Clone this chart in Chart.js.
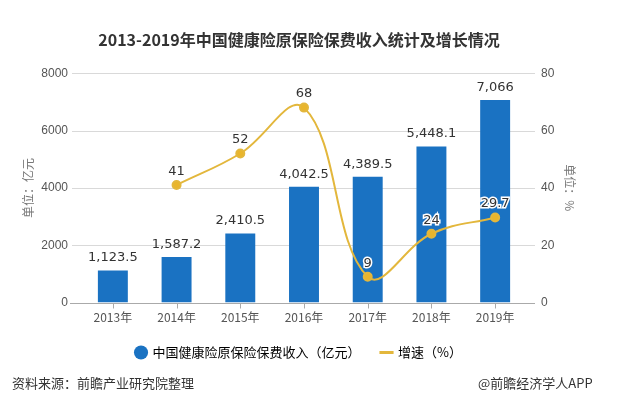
<!DOCTYPE html>
<html><head><meta charset="utf-8">
<script src="https://cdn.jsdelivr.net/npm/chart.js@4/dist/chart.umd.min.js"></script>
<style>
html,body{margin:0;padding:0;background:#fff;}
#wrap{position:relative;width:626px;height:402px;}
canvas{position:absolute;left:0;top:0;}
.note{position:absolute;top:373px;font:13px "Noto Sans CJK SC",sans-serif;color:#333;}
</style></head><body>
<div id="wrap"><canvas id="c" width="626" height="402"></canvas>
<div class="note" style="left:12px">资料来源：前瞻产业研究院整理</div>
<div class="note" style="left:478px">@前瞻经济学人APP</div>
</div>
<script>
const categories = ["2013年","2014年","2015年","2016年","2017年","2018年","2019年"];
const premium = [1123.5, 1587.2, 2410.5, 4042.5, 4389.5, 5448.1, 7066];
const growth = [null, 41, 52, 68, 9, 24, 29.7];
const premiumLabels = ["1,123.5","1,587.2","2,410.5","4,042.5","4,389.5","5,448.1","7,066"];
const growthLabels = [null,"41","52","68","9","24","29.7"];

const gridPlugin = {
  id:'grid',
  beforeDatasetsDraw(chart){
    const y = chart.scales.y, ctx = chart.ctx, a = chart.chartArea;
    ctx.save();
    ctx.strokeStyle = '#d9d9d9'; ctx.lineWidth = 1;
    y.ticks.forEach(t=>{
      if (t.value === 0) return;
      const py = Math.round(y.getPixelForValue(t.value)) + 0.5;
      ctx.beginPath(); ctx.moveTo(a.left-9, py); ctx.lineTo(a.right+8, py); ctx.stroke();
    });
    ctx.strokeStyle = '#aaaaaa';
    const py0 = Math.round(y.getPixelForValue(0)) + 0.5;
    ctx.beginPath(); ctx.moveTo(a.left-11, py0); ctx.lineTo(a.right+8, py0); ctx.stroke();
    const x = chart.scales.x;
    categories.forEach((c,i)=>{
      const px = Math.round(x.getPixelForValue(i)) + 0.5;
      ctx.beginPath(); ctx.moveTo(px, py0); ctx.lineTo(px, py0+5); ctx.stroke();
    });
    ctx.restore();
  }
};
const labelPlugin = {
  id:'labels',
  afterDatasetsDraw(chart){
    const ctx = chart.ctx;
    ctx.save();
    ctx.textAlign = 'center'; ctx.textBaseline = 'bottom';
    const bm = chart.getDatasetMeta(1);
    ctx.font = '13px "DejaVu Sans", sans-serif';
    ctx.fillStyle = '#333';
    bm.data.forEach((el,i)=>{ ctx.fillText(premiumLabels[i], el.x, el.y - 6); });
    const lm = chart.getDatasetMeta(0);
    lm.data.forEach((el,i)=>{
      if (!growthLabels[i]) return;
      ctx.lineWidth = 3; ctx.strokeStyle = '#fff';
      ctx.strokeText(growthLabels[i], el.x, el.y - 7);
      ctx.fillStyle = '#333';
      ctx.fillText(growthLabels[i], el.x, el.y - 7);
    });
    ctx.restore();
  }
};

new Chart(document.getElementById('c'), {
  data:{
    labels: categories,
    datasets:[
      {type:'line', label:'增速（%）', data:growth, yAxisID:'y1', borderColor:'#e3b73c', backgroundColor:'#e9b52c',
       pointBackgroundColor:'#e9b52c', pointBorderColor:'#e3b73c', pointRadius:4, borderWidth:2, tension:0.4, order:0, spanGaps:true},
      {type:'bar', label:'中国健康险原保险保费收入（亿元）', data:premium, yAxisID:'y', backgroundColor:'#1a72c2',
       barPercentage:0.47, categoryPercentage:1, order:1}
    ]
  },
  options:{
    responsive:false, animation:false,
    layout:{padding:{left:18, right:46, top:10, bottom:33}},
    plugins:{
      title:{display:true, text:'2013-2019年中国健康险原保险保费收入统计及增长情况', color:'#333',
        font:{size:16, weight:'bold', family:'"Noto Sans CJK SC", sans-serif'}, padding:{top:20, bottom:24}},
      legend:{position:'bottom', labels:{usePointStyle:true, color:'#333', boxWidth:10, boxHeight:10, padding:21,
        font:{size:13, family:'"Noto Sans CJK SC", sans-serif'},
        generateLabels(chart){
          return [
            {text:'中国健康险原保险保费收入（亿元）', fillStyle:'#1a72c2', strokeStyle:'#1a72c2', pointStyle:'circle', datasetIndex:1, lineWidth:0},
            {text:'增速（%）', fillStyle:'#e9b52c', strokeStyle:'#e3b73c', pointStyle:'line', datasetIndex:0, lineWidth:3}
          ];
        }}},
      tooltip:{enabled:false}
    },
    scales:{
      x:{offset:true, grid:{display:false, drawOnChartArea:false}, border:{display:false},
         ticks:{color:'#555', font:{size:12, family:'"Noto Sans CJK SC", sans-serif'}, padding:0}},
      y:{position:'left', min:0, max:8000, ticks:{stepSize:2000, color:'#555', font:{size:12}, padding:5, callback:v=>String(v)},
         grid:{display:false}, border:{display:false}, afterFit(s){ s.width = 63; },
         title:{display:true, text:'单位：亿元', color:'#777', font:{size:12, family:'"Noto Sans CJK SC", sans-serif'}, padding:3}},
      y1:{position:'right', min:0, max:80, ticks:{stepSize:20, color:'#555', font:{size:12}, padding:6, callback:v=>String(v)},
         grid:{display:false}, border:{display:false}, afterFit(s){ s.width = 53; },
         title:{display:true, text:'单位：%', color:'#777', font:{size:12, family:'"Noto Sans CJK SC", sans-serif'}, padding:3}}
    }
  },
  plugins:[gridPlugin, labelPlugin]
});
</script>
</body></html>
